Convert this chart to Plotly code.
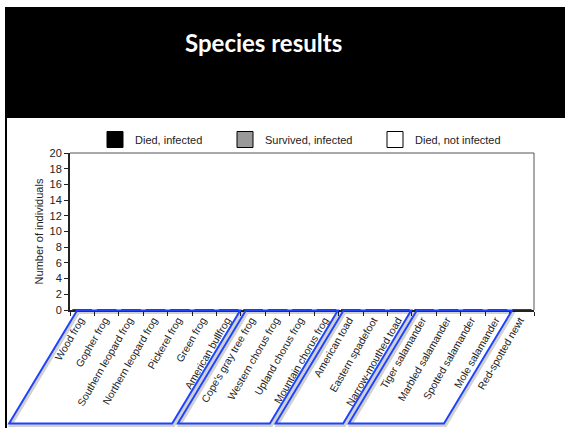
import plotly.graph_objects as go

# ---- data ----
species = [
    "Wood frog", "Gopher frog", "Southern leopard frog", "Northern leopard frog",
    "Pickerel frog", "Green frog", "American bullfrog", "Cope's gray tree frog",
    "Western chorus frog", "Upland chorus frog", "Mountain chorus frog",
    "American toad", "Eastern spadefoot", "Narrow-mouthed toad",
    "Tiger salamander", "Marbled salamander", "Spotted salamander",
    "Mole salamander", "Red-spotted newt",
]
died_infected = [0] * len(species)
survived_infected = [0] * len(species)
died_not_infected = [0] * len(species)
series_names = ["Died, infected", "Survived, infected", "Died, not infected"]
y_ticks = list(range(0, 21, 2))
# species groups (first index, last index) outlined on the axis
groups = [(0, 6), (7, 10), (11, 13), (14, 17)]

# ---- layout geometry (pixels) ----
FW, FH = 565, 428
L, T, W, H = 70, 153, 464, 157
N = len(species)


def px(x):
    return (x - L) / W


def py(y):
    return (T + H - y) / H


FONT = "Arial, Liberation Sans, sans-serif"
colors = ["#000000", "#999999", "#ffffff"]

fig = go.Figure()
for name, vals, col in zip(series_names,
                           [died_infected, survived_infected, died_not_infected],
                           colors):
    fig.add_trace(go.Bar(x=species, y=vals, name=name, marker_color=col,
                         marker_line=dict(color="#000", width=1),
                         showlegend=False))

# legend entries (one legend each so they sit where the original has them)
leg_x = [95, 225, 375]
for i, (name, col) in enumerate(zip(series_names, colors)):
    lid = "legend" if i == 0 else f"legend{i+1}"
    fig.add_trace(go.Scatter(x=[None], y=[None], mode="markers", name=name,
                             marker=dict(symbol="square", size=16, color=col,
                                         line=dict(color="#000", width=1)),
                             legend=lid, showlegend=True))

legend_common = dict(orientation="h", yanchor="middle", xanchor="left",
                     bgcolor="rgba(0,0,0,0)", itemsizing="trace",
                     font=dict(family=FONT, size=11, color="#222"))
fig.update_layout(
    legend=dict(x=px(leg_x[0]), y=py(139.5), **legend_common),
    legend2=dict(x=px(leg_x[1]), y=py(139.5), **legend_common),
    legend3=dict(x=px(leg_x[2]), y=py(139.5), **legend_common),
)

shapes = []
# black header band
shapes.append(dict(type="rect", xref="paper", yref="paper",
                   x0=px(5), x1=px(566), y0=py(118), y1=py(7),
                   fillcolor="#000", line=dict(width=0), layer="above"))
# left border line
shapes.append(dict(type="line", xref="paper", yref="paper",
                   x0=px(6), x1=px(6), y0=py(117), y1=py(430),
                   line=dict(color="#000", width=2)))
# top / right frame of plot area
shapes.append(dict(type="line", xref="paper", yref="paper", x0=0, x1=1, y0=1, y1=1,
                   line=dict(color="#555", width=1)))
shapes.append(dict(type="line", xref="paper", yref="paper", x0=1, x1=1, y0=0, y1=1,
                   line=dict(color="#555", width=1)))

# group parallelograms
shift = 68 / W
top_y = py(310.5)
bot_y = py(423.5)
for gi, (a, b) in enumerate(groups):
    left = (a + (0.29 if gi == 0 else 0.2)) / N
    right = (b + 1 + (0.1 if gi == len(groups) - 1 else -0.03)) / N
    pts = [(left, top_y), (right, top_y), (right - shift, bot_y), (left - shift, bot_y)]

    def path(dx=0.0, dy=0.0):
        return "M " + " L ".join(f"{x + dx},{y + dy}" for x, y in pts) + " Z"

    # soft shadow
    shapes.append(dict(type="path", xref="paper", yref="paper",
                       path=path(1.5 / W, -2 / H),
                       line=dict(color="rgba(0,0,0,0.18)", width=3)))
    shapes.append(dict(type="path", xref="paper", yref="paper", path=path(),
                       line=dict(color="#1f43fb", width=2)))

fig.update_layout(
    width=FW, height=FH,
    margin=dict(l=L, r=FW - L - W, t=T, b=FH - T - H, pad=0),
    paper_bgcolor="#fff", plot_bgcolor="#fff",
    barmode="group", bargap=0.2,
    font=dict(family=FONT, size=11, color="#222"),
    shapes=shapes,
    annotations=[dict(text="<b>Species results</b>", xref="paper", yref="paper",
                      x=px(263), y=py(43), xanchor="center", yanchor="middle",
                      showarrow=False,
                      font=dict(family="Lato, Open Sans, sans-serif", size=24,
                                color="#fff"))],
)
fig.update_xaxes(range=[-0.5, N - 0.5], tickangle=-60, ticks="outside",
                 tickson="boundaries", ticklen=4, tickcolor="#222",
                 showline=True, linecolor="#222", linewidth=2,
                 showgrid=False, zeroline=False,
                 ticklabelshift=-2, ticklabelstandoff=-2,
                 tickfont=dict(family=FONT, size=10.4, color="#222"))
fig.update_yaxes(range=[0, 20], tickvals=y_ticks, ticks="outside", ticklen=4,
                 tickcolor="#222", showline=True, linecolor="#222", linewidth=2,
                 showgrid=False, zeroline=False,
                 title=dict(text="Number of individuals", standoff=4,
                            font=dict(family=FONT, size=11, color="#222")),
                 tickfont=dict(family=FONT, size=11, color="#222"))

fig.write_html("out.html", config={"displayModeBar": False},
               post_script="document.body.style.margin='0';"
                           "document.body.style.overflow='hidden';")
